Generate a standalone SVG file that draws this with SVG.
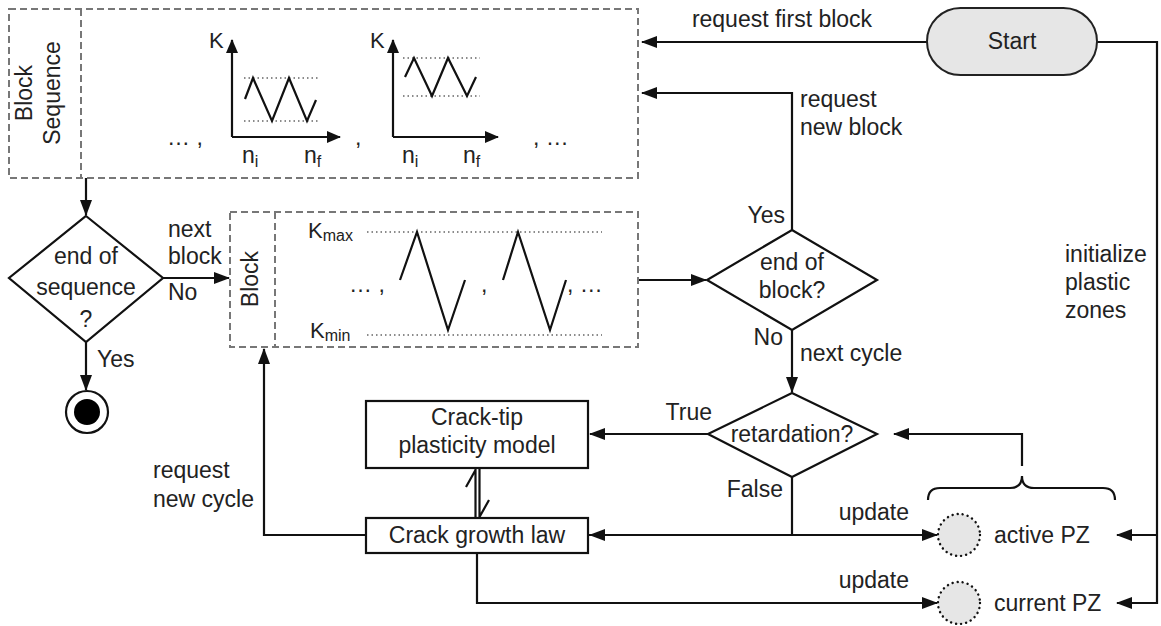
<svg xmlns="http://www.w3.org/2000/svg" width="1161" height="626" viewBox="0 0 1161 626">
<defs>
<marker id="arr" markerUnits="userSpaceOnUse" markerWidth="16" markerHeight="12" refX="15" refY="6" orient="auto">
<path d="M0,0 L16,6 L0,12 Z" fill="#111"/>
</marker>
<marker id="arrs" markerUnits="userSpaceOnUse" markerWidth="14" markerHeight="12" refX="13" refY="6" orient="auto">
<path d="M0,0 L14,6 L0,12 Z" fill="#111"/>
</marker>
<style>
text{font-family:"Liberation Sans",Arial,sans-serif;font-size:23px;fill:#222}
tspan.sub{font-size:16px}
text.kl{font-size:22px}
.dash{fill:none;stroke:#777;stroke-width:2;stroke-dasharray:7 4}
.line{fill:none;stroke:#111;stroke-width:2.2}
.c{fill:none;stroke:#111;stroke-width:2.2;marker-end:url(#arr)}
.dot{fill:none;stroke:#666;stroke-width:1.5;stroke-dasharray:1.5 3}
.zz{fill:none;stroke:#111;stroke-width:2.2;stroke-linejoin:miter}
.shape{fill:#fff;stroke:#111;stroke-width:2.2}
.pz{fill:#e6e6e6;stroke:#111;stroke-width:2.4;stroke-dasharray:0.1 5;stroke-linecap:round}
.mid{text-anchor:middle}
</style>
</defs>

<g id="connectors">
<path class="c" d="M927,42 H642"/>
<path class="line" d="M1097,42 H1157 V603 H1117"/>
<path class="c" d="M1157,603 H1117"/>
<path class="c" d="M1157,535 H1117"/>
<path class="c" d="M792,230 V93 H642"/>
<path class="c" d="M86,178 V215"/>
<path class="c" d="M163,278 H229"/>
<path class="c" d="M86,342 V390"/>
<path class="c" d="M638,280 H706"/>
<path class="c" d="M792,330 V392"/>
<path class="c" d="M708,434 H590"/>
<path class="c" d="M792,477 V535 H590"/>
<path class="c" d="M588,535 H937"/>
<path class="c" d="M477,553 V603 H937"/>
<path class="c" d="M366,535 H264 V349"/>
<path class="c" d="M1022,466 V434 H894"/>
<path class="line" d="M928,500 Q928,488 940,488 H1010 Q1022,488 1022,476 Q1022,488 1034,488 H1103 Q1115,488 1115,500"/>
<path class="line" d="M475.5,518 V469 M466,487 L475.5,470"/>
<path class="line" d="M479.5,469 V518 M489,500 L479.5,517"/>
<text x="782" y="27" class="mid">request first block</text>
<text x="800" y="107">request</text>
<text x="800" y="135">new block</text>
<text x="785" y="223" text-anchor="end">Yes</text>
<text x="783" y="345" text-anchor="end">No</text>
<text x="800" y="361">next cycle</text>
<text x="712" y="420" text-anchor="end">True</text>
<text x="783" y="497" text-anchor="end">False</text>
<text x="909" y="520" text-anchor="end">update</text>
<text x="909" y="588" text-anchor="end">update</text>
<text x="168" y="237">next</text>
<text x="168" y="264">block</text>
<text x="168" y="300">No</text>
<text x="97" y="367">Yes</text>
<text x="153" y="478">request</text>
<text x="153" y="507">new cycle</text>
<text x="1065" y="262">initialize</text>
<text x="1065" y="290">plastic</text>
<text x="1065" y="318">zones</text>
</g>

<g id="start">
<rect x="927" y="8" width="170" height="67" rx="33.5" fill="#e6e6e6" stroke="#222" stroke-width="2"/>
<text x="1012" y="49" class="mid">Start</text>
</g>

<g id="block-sequence">
<rect class="dash" x="9" y="9" width="629" height="169"/>
<line class="dash" x1="81" y1="9" x2="81" y2="178"/>
<text transform="translate(32,93) rotate(-90)" class="mid">Block</text>
<text transform="translate(60,93) rotate(-90)" class="mid">Sequence</text>
<text x="167" y="145">… ,</text>
<path class="line" d="M232,137 V40" marker-end="url(#arrs)"/>
<path class="line" d="M232,137 H340" marker-end="url(#arrs)"/>
<text x="209" y="48" class="kl">K</text>
<line class="dot" x1="244" y1="78" x2="320" y2="78"/>
<line class="dot" x1="244" y1="121" x2="320" y2="121"/>
<polyline class="zz" points="245,99 253,78 272,121 289,78 307,121 316,100"/>
<text x="242" y="163">n<tspan class="sub" dy="4">i</tspan></text>
<text x="304" y="163">n<tspan class="sub" dy="4">f</tspan></text>
<text x="355" y="145">,</text>
<path class="line" d="M393,137 V40" marker-end="url(#arrs)"/>
<path class="line" d="M393,137 H498" marker-end="url(#arrs)"/>
<text x="370" y="48" class="kl">K</text>
<line class="dot" x1="403" y1="58" x2="480" y2="58"/>
<line class="dot" x1="403" y1="96" x2="480" y2="96"/>
<polyline class="zz" points="405,77 414,58 432,96 448,58 467,96 476,77"/>
<text x="402" y="163">n<tspan class="sub" dy="4">i</tspan></text>
<text x="463" y="163">n<tspan class="sub" dy="4">f</tspan></text>
<text x="533" y="145">,  …</text>
</g>

<g id="block">
<rect class="dash" x="230" y="212" width="408" height="135"/>
<line class="dash" x1="275" y1="212" x2="275" y2="347"/>
<text transform="translate(258,279) rotate(-90)" class="mid">Block</text>
<text x="308" y="238" class="kl">K<tspan class="sub" dy="3">max</tspan></text>
<text x="310" y="338" class="kl">K<tspan class="sub" dy="3">min</tspan></text>
<line class="dot" x1="367" y1="232" x2="602" y2="232"/>
<line class="dot" x1="367" y1="335" x2="602" y2="335"/>
<text x="349" y="292">… ,</text>
<polyline class="zz" points="400,280 417,232 448,330 465,280"/>
<text x="481" y="292">,</text>
<polyline class="zz" points="503,280 518,232 550,330 566,280"/>
<text x="567" y="292">, …</text>
</g>

<g id="end-of-sequence">
<polygon class="shape" points="86,216 163,278 86,342 9,278"/>
<text x="86" y="264" class="mid">end of</text>
<text x="86" y="295" class="mid">sequence</text>
<text x="86" y="327" class="mid">?</text>
</g>

<g id="end">
<circle cx="87" cy="412" r="21" fill="#fff" stroke="#111" stroke-width="2.2"/>
<circle cx="87" cy="412" r="13" fill="#000"/>
</g>

<g id="end-of-block">
<polygon class="shape" points="792,230 877,280 792,330 707,280"/>
<text x="792" y="270" class="mid">end of</text>
<text x="792" y="298" class="mid">block?</text>
</g>

<g id="retardation">
<polygon class="shape" points="792,393 877,434 792,477 708,434"/>
<text x="792" y="442" class="mid">retardation?</text>
</g>

<g id="crack-tip">
<rect class="shape" x="366" y="401" width="222" height="67"/>
<text x="477" y="425" class="mid">Crack-tip</text>
<text x="477" y="453" class="mid">plasticity model</text>
</g>

<g id="crack-growth">
<rect class="shape" x="366" y="518" width="222" height="35"/>
<text x="477" y="543" class="mid">Crack growth law</text>
</g>

<g id="active-pz">
<circle class="pz" cx="959" cy="535" r="21"/>
<text x="994" y="543">active PZ</text>
</g>

<g id="current-pz">
<circle class="pz" cx="959" cy="603" r="21"/>
<text x="994" y="611">current PZ</text>
</g>
</svg>
